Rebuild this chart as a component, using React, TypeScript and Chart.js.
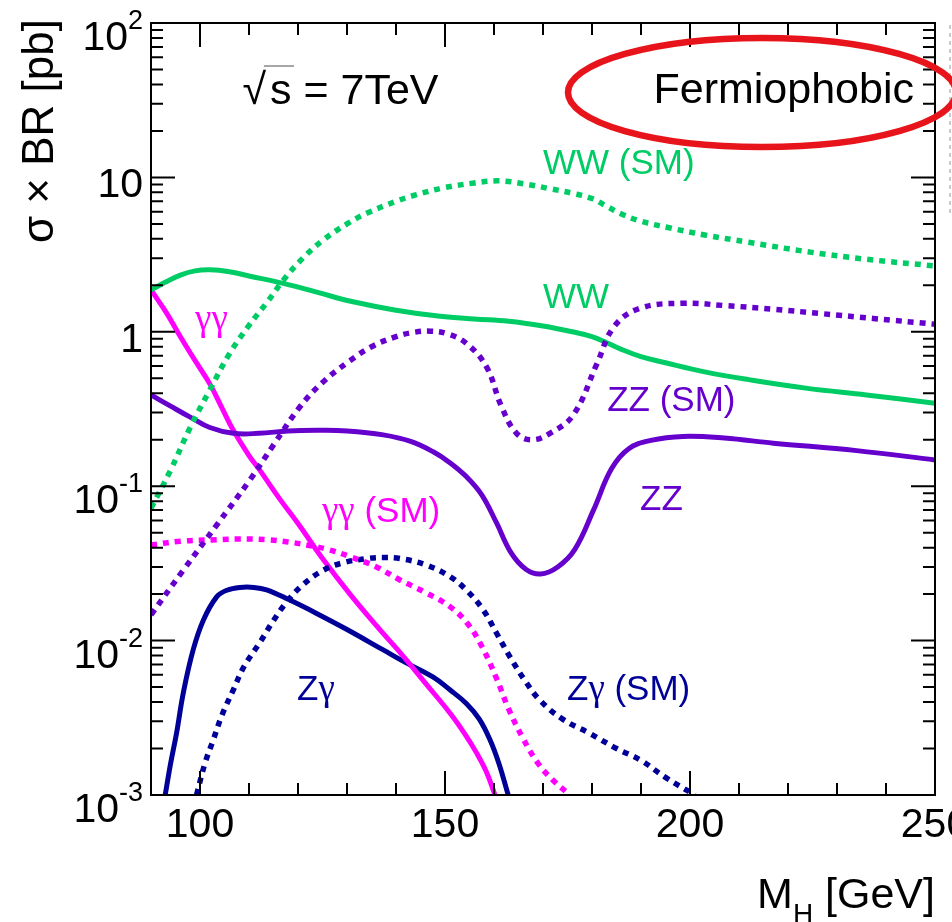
import React, { useEffect, useRef } from 'react';
import { Chart, registerables } from 'chart.js';

Chart.register(...registerables);

// ---------------- data ----------------
const wwMass = [90, 93, 96, 99, 102, 106, 110, 117, 124, 131, 140, 149, 156, 163, 170, 176, 180, 183, 186, 190, 195, 203, 212, 224, 236, 250];
const wwXsec = [1.87, 2.1, 2.33, 2.48, 2.52, 2.45, 2.3, 2.06, 1.8, 1.57, 1.38, 1.26, 1.21, 1.17, 1.09, 1.0, 0.93, 0.85, 0.77, 0.69, 0.63, 0.55, 0.49, 0.43, 0.39, 0.345];

const wwSmMass = [90, 94, 98, 102, 106, 110, 114, 117, 121, 125, 130, 134, 140, 144, 150, 156, 161, 166, 171, 176, 180, 183, 186, 190, 196, 203, 212, 224, 236, 250];
const wwSmXsec = [0.072, 0.127, 0.24, 0.42, 0.72, 1.1, 1.6, 2.16, 3.0, 3.9, 5.0, 5.85, 7.0, 7.7, 8.6, 9.2, 9.5, 9.1, 8.5, 7.9, 7.3, 6.5, 5.8, 5.2, 4.7, 4.24, 3.8, 3.3, 2.95, 2.67];

const zzSmMass = [90, 96.6, 103.4, 110.2, 115, 120.4, 125, 130.6, 135, 140, 143.5, 147, 150.5, 154.4, 158.5, 161.5, 164.6, 167.7, 171.4, 176.2, 181, 184.5, 189.8, 198.6, 207, 217, 227, 237.4, 250];
const zzSmXsec = [0.0147, 0.0286, 0.056, 0.11, 0.185, 0.327, 0.47, 0.65, 0.8, 0.93, 0.99, 1.01, 0.97, 0.84, 0.59, 0.33, 0.22, 0.2, 0.22, 0.29, 0.62, 1.08, 1.42, 1.53, 1.48, 1.4, 1.31, 1.22, 1.12];

const zzMass = [90, 94, 98, 102, 106.8, 112, 118, 124, 130, 137.4, 143, 147.6, 151, 154.4, 157.5, 160.5, 163.5, 166.5, 169.5, 173, 176.5, 180.3, 184, 187.5, 192, 198.6, 207, 217, 234, 250];
const zzXsec = [0.39, 0.33, 0.28, 0.24, 0.22, 0.22, 0.228, 0.23, 0.228, 0.215, 0.195, 0.167, 0.142, 0.115, 0.088, 0.058, 0.037, 0.029, 0.027, 0.03, 0.039, 0.07, 0.13, 0.175, 0.198, 0.21, 0.205, 0.19, 0.17, 0.148];

const ggMass = [90, 93, 96, 99, 102, 104.5, 106.8, 110, 112.2, 116, 120.4, 125, 130.6, 136, 141.5, 146, 151, 154, 156.5, 158.5, 160.2];
const ggXsec = [1.87, 1.35, 0.93, 0.65, 0.46, 0.32, 0.23, 0.158, 0.127, 0.085, 0.055, 0.034, 0.02, 0.0125, 0.0079, 0.0053, 0.0034, 0.0025, 0.00186, 0.0014, 0.001];

const ggSmMass = [90, 96, 103.4, 108, 113.6, 118, 121.8, 126, 130.6, 136, 140.8, 146, 151, 154.5, 157.5, 160.5, 163, 166, 169, 172, 175.5];
const ggSmXsec = [0.0416, 0.044, 0.045, 0.0455, 0.045, 0.0435, 0.0416, 0.039, 0.035, 0.03, 0.0247, 0.0205, 0.0166, 0.013, 0.0092, 0.0057, 0.0036, 0.0023, 0.0016, 0.00125, 0.001];

const zgMass = [92.9, 94, 95.2, 96.6, 98.6, 100.7, 103.4, 105.5, 108.2, 111, 113.6, 118, 123.8, 130, 137.4, 142, 147.6, 151, 154.4, 157, 159.2, 161, 162.9];
const zgXsec = [0.001, 0.0016, 0.0025, 0.0046, 0.0087, 0.0136, 0.0192, 0.0212, 0.0221, 0.0221, 0.0213, 0.0185, 0.015, 0.0118, 0.0087, 0.0072, 0.0058, 0.0048, 0.0039, 0.0031, 0.00227, 0.0016, 0.001];

const zgSmMass = [99.3, 101, 102.7, 104.5, 106.8, 109, 112.2, 115, 117.7, 121, 125.2, 129, 134, 137.5, 140.8, 146, 151, 154.5, 157.8, 160.5, 163.3, 166.5, 169.4, 174, 179.6, 185, 189.8, 195, 201];
const zgSmXsec = [0.001, 0.0016, 0.00227, 0.0033, 0.0048, 0.0068, 0.0097, 0.0135, 0.0178, 0.023, 0.0286, 0.0318, 0.034, 0.0345, 0.034, 0.031, 0.026, 0.021, 0.0158, 0.0112, 0.0078, 0.0054, 0.0041, 0.0031, 0.0025, 0.002, 0.00169, 0.0013, 0.001];

// ---------------- axes / ticks ----------------
const xMin = 90;
const xMax = 250;
const yMin = 0.001;
const yMax = 100;
const xTickValues = [100, 150, 200, 250];
const xTickLabels = ['100', '150', '200', '250'];
const xMinorValues = [90, 100, 110, 120, 130, 140, 150, 160, 170, 180, 190, 200, 210, 220, 230, 240, 250];
const yDecades = [0.001, 0.01, 0.1, 1, 10, 100];
const yTickBase = ['10', '10', '10', '1', '10', '10'];
const yTickExp = ['-3', '-2', '-1', '', '', '2'];

// ---------------- labels ----------------
const curveLabelText = ['WW (SM)', 'WW', 'ZZ (SM)', 'ZZ', 'γγ', 'γγ (SM)', 'Zγ', 'Zγ (SM)'];
const curveLabelMass = [170, 170, 183.1, 189.8, 99, 124.9, 119.8, 174.9];
const curveLabelXsec = [10.5, 1.43, 0.307, 0.07, 1.03, 0.0586, 0.00412, 0.00412];

const GREEN = '#00cc66';
const PURPLE = '#6600cc';
const MAGENTA = '#ff00ff';
const NAVY = '#000099';
const curveLabelColor = [GREEN, GREEN, PURPLE, PURPLE, MAGENTA, MAGENTA, NAVY, NAVY];

const SANS = '"Liberation Sans", Arial, Helvetica, sans-serif';
const SERIF = '"Liberation Serif", "DejaVu Serif", serif';

const pts = (m: number[], v: number[]) => m.map((x, i) => ({ x, y: v[i] }));

function drawMixed(ctx: CanvasRenderingContext2D, text: string, x: number, y: number, size: number, color: string) {
  ctx.fillStyle = color;
  ctx.textAlign = 'left';
  ctx.textBaseline = 'alphabetic';
  let cx = x;
  let run = '';
  let runGreek = false;
  const flush = () => {
    if (!run) return;
    ctx.font = runGreek ? `${size + 2}px ${SERIF}` : `${size}px ${SANS}`;
    ctx.fillText(run, cx, y);
    cx += ctx.measureText(run).width;
    run = '';
  };
  for (const ch of text) {
    const g = /[\u0370-\u03ff]/.test(ch);
    if (run && g !== runGreek) flush();
    runGreek = g;
    run += ch;
  }
  flush();
}

const decorPlugin = {
  id: 'decor',
  afterDatasetsDraw(chart: any) {
    const ctx: CanvasRenderingContext2D = chart.ctx;
    const xs = chart.scales.x;
    const ys = chart.scales.y;
    const { left, right, top, bottom } = chart.chartArea;
    ctx.save();

    // frame
    ctx.strokeStyle = '#000';
    ctx.lineWidth = 2;
    ctx.setLineDash([]);
    ctx.strokeRect(left, top, right - left, bottom - top);

    // ticks, inward on all four sides
    ctx.beginPath();
    xMinorValues.forEach((m) => {
      const px = xs.getPixelForValue(m);
      const len = xTickValues.includes(m) ? 24 : 12;
      ctx.moveTo(px, bottom);
      ctx.lineTo(px, bottom - len);
      ctx.moveTo(px, top);
      ctx.lineTo(px, top + len);
    });
    yDecades.forEach((d, i) => {
      const py = ys.getPixelForValue(d);
      ctx.moveTo(left, py);
      ctx.lineTo(left + 24, py);
      ctx.moveTo(right, py);
      ctx.lineTo(right - 24, py);
      if (i < yDecades.length - 1) {
        for (let k = 2; k <= 9; k++) {
          const my = ys.getPixelForValue(d * k);
          ctx.moveTo(left, my);
          ctx.lineTo(left + 12, my);
          ctx.moveTo(right, my);
          ctx.lineTo(right - 12, my);
        }
      }
    });
    ctx.stroke();

    // x tick labels
    ctx.fillStyle = '#000';
    ctx.font = `41px ${SANS}`;
    ctx.textAlign = 'center';
    ctx.textBaseline = 'alphabetic';
    xTickValues.forEach((m, i) => {
      ctx.fillText(xTickLabels[i], xs.getPixelForValue(m), bottom + 42);
    });

    // y tick labels with exponents
    const labelRight = left - 8;
    yDecades.forEach((d, i) => {
      const py = ys.getPixelForValue(d);
      const base = yTickBase[i];
      const exp = yTickExp[i];
      ctx.textAlign = 'left';
      if (exp) {
        ctx.font = `27px ${SANS}`;
        const ew = ctx.measureText(exp).width;
        ctx.font = `41px ${SANS}`;
        const bw = ctx.measureText(base).width;
        const bx = labelRight - ew - bw;
        const by = py + 27;
        ctx.fillText(base, bx, by);
        ctx.font = `27px ${SANS}`;
        ctx.fillText(exp, bx + bw, by - 21);
      } else {
        ctx.font = `41px ${SANS}`;
        const bw = ctx.measureText(base).width;
        ctx.fillText(base, labelRight - bw, py + 20);
      }
    });

    // x axis title: M_H [GeV]
    ctx.fillStyle = '#000';
    ctx.font = `43px ${SANS}`;
    const wM = ctx.measureText('M').width;
    const wRest = ctx.measureText(' [GeV]').width;
    ctx.font = `28px ${SANS}`;
    const wH = ctx.measureText('H').width;
    let tx = right - (wM + wH + wRest);
    ctx.font = `43px ${SANS}`;
    ctx.fillText('M', tx, 908);
    tx += wM;
    ctx.font = `28px ${SANS}`;
    ctx.fillText('H', tx, 923);
    tx += wH;
    ctx.font = `43px ${SANS}`;
    ctx.fillText(' [GeV]', tx, 908);

    // y axis title (rotated)
    ctx.save();
    ctx.translate(53, 19);
    ctx.rotate(-Math.PI / 2);
    ctx.textAlign = 'right';
    ctx.font = `44px ${SANS}`;
    ctx.fillText('σ × BR [pb]', 0, 0);
    ctx.restore();

    // curve labels
    curveLabelText.forEach((t, i) => {
      const px = xs.getPixelForValue(curveLabelMass[i]);
      const py = ys.getPixelForValue(curveLabelXsec[i]);
      drawMixed(ctx, t, px, py, 35, curveLabelColor[i]);
    });

    // sqrt(s) = 7TeV
    ctx.fillStyle = '#000';
    ctx.textAlign = 'left';
    ctx.font = `43px ${SANS}`;
    const sqrtW = ctx.measureText('√').width;
    ctx.fillText('√', 266 - sqrtW, 104);
    ctx.fillText('s = 7TeV', 270, 104);
    ctx.strokeStyle = '#888';
    ctx.lineWidth = 1.5;
    ctx.beginPath();
    ctx.moveTo(264, 66);
    ctx.lineTo(294, 66);
    ctx.stroke();

    // Fermiophobic
    ctx.fillStyle = '#000';
    ctx.textAlign = 'right';
    ctx.font = `43px ${SANS}`;
    ctx.fillText('Fermiophobic', 914, 103);

    // faint dashed edge artifact at right
    ctx.strokeStyle = 'rgba(140,140,140,0.45)';
    ctx.lineWidth = 2;
    ctx.setLineDash([4, 4]);
    ctx.beginPath();
    ctx.moveTo(950, 25);
    ctx.lineTo(950, 215);
    ctx.stroke();
    ctx.setLineDash([]);

    // red ellipse
    ctx.strokeStyle = '#e8141b';
    ctx.lineWidth = 6.5;
    ctx.beginPath();
    ctx.ellipse(762, 92.5, 194, 54.5, 0, 0, Math.PI * 2);
    ctx.stroke();

    ctx.restore();
  },
};

function line(label: string, m: number[], v: number[], color: string, dotted: boolean) {
  return {
    label,
    data: pts(m, v),
    borderColor: color,
    backgroundColor: color,
    borderWidth: dotted ? 5.5 : 5,
    borderDash: dotted ? [6, 6] : [],
    borderCapStyle: 'butt' as const,
    borderJoinStyle: 'round' as const,
    pointRadius: 0,
    fill: false,
    tension: 0.4,
    clip: 0,
  };
}

export default function App() {
  const ref = useRef<HTMLCanvasElement>(null);
  useEffect(() => {
    if (!ref.current) return;
    const chart = new Chart(ref.current, {
      type: 'line',
      data: {
        datasets: [
          line('WW (SM)', wwSmMass, wwSmXsec, GREEN, true),
          line('ZZ (SM)', zzSmMass, zzSmXsec, PURPLE, true),
          line('γγ (SM)', ggSmMass, ggSmXsec, MAGENTA, true),
          line('Zγ (SM)', zgSmMass, zgSmXsec, NAVY, true),
          line('WW', wwMass, wwXsec, GREEN, false),
          line('ZZ', zzMass, zzXsec, PURPLE, false),
          line('γγ', ggMass, ggXsec, MAGENTA, false),
          line('Zγ', zgMass, zgXsec, NAVY, false),
        ] as any,
      },
      options: {
        responsive: false,
        animation: false,
        devicePixelRatio: 1,
        layout: { padding: { left: 151, top: 23, right: 17, bottom: 127 } },
        parsing: false as any,
        normalized: true,
        scales: {
          x: { type: 'linear', min: xMin, max: xMax, display: false },
          y: { type: 'logarithmic', min: yMin, max: yMax, display: false },
        },
        plugins: {
          legend: { display: false },
          tooltip: { enabled: false },
        },
        events: [],
      },
      plugins: [decorPlugin],
    });
    return () => chart.destroy();
  }, []);
  return (
    <div style={{ position: 'absolute', left: 0, top: 0, width: 952, height: 922, background: '#fff' }}>
      <canvas ref={ref} width={952} height={922} style={{ display: 'block', width: 952, height: 922 }} />
    </div>
  );
}
